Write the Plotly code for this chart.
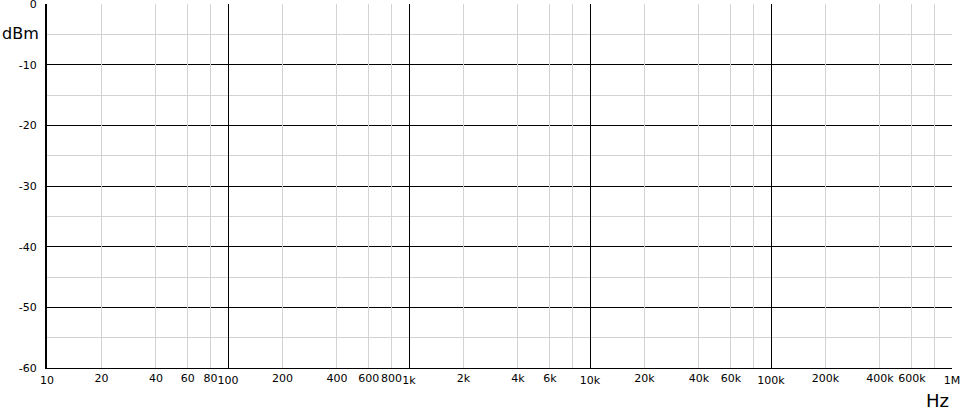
import plotly.graph_objects as go

# axis ticks
decade_vals = [10, 100, 1000, 10000, 100000, 1000000]
decade_text = ["10", "100", "1k", "10k", "100k", "1M"]
mid_vals = [20, 40, 60, 80, 200, 400, 600, 800, 2000, 4000, 6000, 8000,
            20000, 40000, 60000, 80000, 200000, 400000, 600000, 800000]
mid_text = ["20", "40", "60", "80", "200", "400", "600", "800", "2k", "4k", "6k", "",
            "20k", "40k", "60k", "", "200k", "400k", "600k", ""]
y_vals = [0, -10, -20, -30, -40, -50, -60]
y_text = ["0", "-10", "-20", "-30", "-40", "-50", "-60"]

font = dict(family="DejaVu Sans, Verdana, sans-serif", size=11, color="black")

fig = go.Figure()
# empty traces so both x axes get drawn
fig.add_trace(go.Scatter(x=[], y=[], xaxis="x", yaxis="y", showlegend=False))
fig.add_trace(go.Scatter(x=[], y=[], xaxis="x2", yaxis="y", showlegend=False))

fig.update_layout(
    width=961, height=408,
    margin=dict(l=47, r=9, t=4, b=40, autoexpand=False),
    paper_bgcolor="white", plot_bgcolor="white",
    font=font,
    showlegend=False,
    xaxis=dict(
        type="log", range=[1, 6],
        tickmode="array", tickvals=decade_vals, ticktext=decade_text,
        showgrid=True, gridcolor="black", gridwidth=1,
        showline=True, linecolor="black", linewidth=1,
        ticks="", ticklabelstandoff=2, zeroline=False, tickangle=0,
        automargin=False, ticklabeloverflow="allow", tickfont=font,
    ),
    xaxis2=dict(
        type="log", range=[1, 6], overlaying="x", anchor="y", side="bottom",
        tickmode="array", tickvals=mid_vals, ticktext=mid_text,
        showgrid=True, gridcolor="#d3d3d3", gridwidth=1,
        showline=False, ticks="", ticklabelstandoff=2, tickangle=0,
        zeroline=False, automargin=False, ticklabeloverflow="allow", tickfont=font,
    ),
    yaxis=dict(
        range=[-60, 0],
        tickmode="array", tickvals=y_vals, ticktext=y_text,
        showgrid=True, gridcolor="black", gridwidth=1,
        minor=dict(dtick=5, showgrid=True, gridcolor="#d3d3d3", gridwidth=1, ticks=""),
        showline=True, linecolor="black", linewidth=2,
        ticks="", ticklabelstandoff=6, zeroline=False,
        automargin=False, ticklabeloverflow="allow", tickfont=font,
    ),
    annotations=[
        dict(text="dBm", xref="paper", yref="paper", x=-0.052, y=0.92,
             xanchor="left", yanchor="middle", showarrow=False,
             font=dict(family="DejaVu Sans, sans-serif", size=16, color="black")),
        dict(text="Hz", xref="paper", yref="paper", x=0.984, y=-0.09,
             xanchor="center", yanchor="middle", showarrow=False,
             font=dict(family="DejaVu Sans, sans-serif", size=18, color="black")),
    ],
)

fig.write_html("out.html", config={"displayModeBar": False},
               post_script="document.body.style.margin='0';")
